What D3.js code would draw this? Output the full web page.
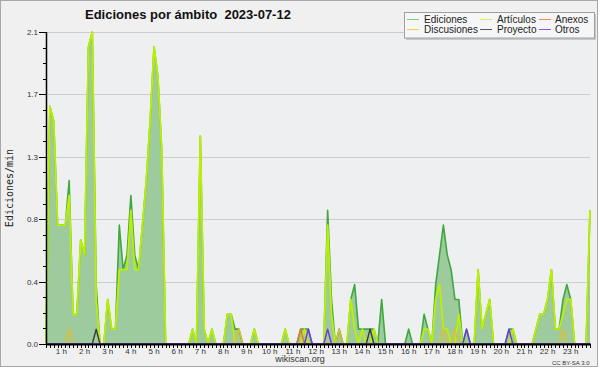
<!DOCTYPE html>
<html><head><meta charset="utf-8">
<script src="https://cdn.jsdelivr.net/npm/d3@7"></script>
<style>html,body{margin:0;padding:0;background:#fff;}svg{display:block;}</style>
</head><body><svg id="c" width="600" height="370"></svg>
<script>
const chartTitle = "Ediciones por ámbito  2023-07-12";
const yTitle = "Ediciones/min";
const hourLabels = ["1 h","2 h","3 h","4 h","5 h","6 h","7 h","8 h","9 h","10 h","11 h","12 h",
  "13 h","14 h","15 h","16 h","17 h","18 h","19 h","20 h","21 h","22 h","23 h"];
const yTicks = [0, 0.42, 0.84, 1.26, 1.68, 2.1];
const legendNames = ["Ediciones","Artículos","Anexos","Discusiones","Proyecto","Otros"];

const ediciones = [0,1.6,1.5,0.8,0.8,0.8,1.1,0.2,0.2,0.7,
 0.6,2.0,2.1,0.4,0,0,0.3,0.1,0.1,0.8,
 0.5,0.6,1.0,0.6,0.5,0.8,1.1,1.5,2.0,1.8,
 1.3,0,0,0,0,0,0,0,0.1,0,
 1.4,0.1,0,0.1,0,0,0,0.2,0.2,0.1,
 0.1,0,0,0,0.1,0,0,0,0,0,
 0,0,0.1,0,0,0,0.1,0.1,0.1,0,
 0,0,0,0.9,0.3,0,0.1,0,0,0.3,
 0.4,0.1,0.1,0.1,0.1,0.1,0,0.3,0,0,
 0,0,0,0,0.1,0,0,0,0.2,0.1,
 0,0.4,0.6,0.8,0.6,0.5,0.3,0.3,0,0.1,
 0,0,0.5,0.1,0.2,0.3,0,0,0,0,
 0.1,0.1,0,0,0,0,0,0.1,0.2,0.2,
 0.3,0.5,0.1,0.1,0.3,0.4,0.3,0,0,0,
 0,0.9];
const articulos = [0,1.6,1.5,0.8,0.8,0.8,1.0,0.2,0.2,0.7,
 0.6,2.0,2.1,0.3,0,0,0.3,0.1,0.1,0.5,
 0.5,0.5,0.9,0.5,0.5,0.8,1.1,1.5,2.0,1.8,
 1.3,0,0,0,0,0,0,0,0.1,0,
 1.4,0.1,0,0.1,0,0,0,0.2,0.2,0,
 0,0,0,0,0.1,0,0,0,0,0,
 0,0,0.1,0,0,0,0,0.1,0,0,
 0,0,0,0.8,0.2,0,0,0,0,0.3,
 0.1,0,0.1,0,0,0.1,0,0,0,0,
 0,0,0,0,0,0,0,0,0.1,0.1,
 0,0.3,0.4,0.1,0.1,0,0,0.2,0,0,
 0,0,0.5,0.1,0.2,0.3,0,0,0,0,
 0,0.1,0,0,0,0,0,0.1,0.2,0.2,
 0.3,0.5,0.1,0.1,0.2,0.3,0.3,0,0,0,
 0,0.9];
const anexos = [0,0,0,0,0,0,0,0,0,0, 0,0,0,0,0,0,0,0,0,0, 0,0,0,0,0,0,0,0,0,0,
 0,0,0,0,0,0,0,0,0,0, 0,0,0,0,0,0,0,0,0,0, 0,0,0,0,0,0,0,0,0,0,
 0,0,0,0,0,0,0.1,0,0,0, 0,0,0,0,0,0,0,0,0,0, 0,0,0,0,0,0,0,0,0,0,
 0,0,0,0,0,0,0,0,0,0, 0,0,0,0,0,0,0,0,0,0, 0,0,0,0,0,0,0,0,0,0,
 0,0,0,0,0,0,0,0,0,0, 0,0,0,0,0,0,0,0,0,0, 0,0];
const discusiones = [0,0,0,0,0,0,0.1,0,0,0, 0,0,0,0,0,0,0,0,0,0, 0,0,0,0,0,0,0,0,0,0,
 0,0,0,0,0,0,0,0,0,0, 0,0,0,0,0,0,0,0,0,0, 0.1,0,0,0,0,0,0,0,0,0,
 0,0,0,0,0,0,0,0,0,0, 0,0,0,0,0,0,0.1,0,0,0, 0,0,0,0,0,0,0,0,0,0,
 0,0,0,0,0,0,0,0,0,0, 0,0,0,0.1,0,0,0.1,0,0,0, 0,0,0,0,0,0,0,0,0,0,
 0,0,0,0,0,0,0,0,0,0, 0,0,0,0,0.1,0,0,0,0,0, 0,0];
const proyecto = [0,0,0,0,0,0,0,0,0,0, 0,0,0,0.1,0,0,0,0,0,0, 0,0,0,0,0,0,0,0,0,0,
 0,0,0,0,0,0,0,0,0,0, 0,0,0,0,0,0,0,0,0,0, 0,0,0,0,0,0,0,0,0,0,
 0,0,0,0,0,0,0,0,0,0, 0,0,0,0,0,0,0,0,0,0, 0,0,0,0,0.1,0,0,0,0,0,
 0,0,0,0,0,0,0,0,0,0, 0,0,0,0,0,0,0,0,0,0, 0,0,0,0,0,0,0,0,0,0,
 0,0,0,0,0,0,0,0,0,0, 0,0,0,0,0,0,0,0,0,0, 0,0];
const otros = [0,0,0,0,0,0,0,0,0,0, 0,0,0,0,0,0,0,0,0,0, 0,0,0,0,0,0,0,0,0,0,
 0,0,0,0,0,0,0,0,0,0, 0,0,0,0,0,0,0,0,0,0, 0,0,0,0,0,0,0,0,0,0,
 0,0,0,0,0,0,0,0,0.1,0, 0,0,0,0.1,0,0,0,0,0,0, 0,0,0,0,0,0,0,0,0,0,
 0,0,0,0,0,0,0,0,0,0, 0,0,0,0,0,0,0,0,0,0.1, 0,0,0,0,0,0,0,0,0,0,
 0.1,0,0,0,0,0,0,0,0,0, 0,0,0,0,0,0,0,0,0,0, 0,0];

const colors = {Ediciones:"#3fa83f", Artículos:"#bdf000", Anexos:"#e8752a",
  Discusiones:"#e6c020", Proyecto:"#3a3a3a", Otros:"#7236e0"};
const legendColors = {Ediciones:"#80cc80", Artículos:"#d4f060", Anexos:"#f08a55",
  Discusiones:"#f0d048", Proyecto:"#555555", Otros:"#9055f0"};

const svg = d3.select("#c");
const L = 46, R = 590, T = 32, B = 344;
const x = d3.scaleLinear().domain([0, ediciones.length - 1]).range([L, R]);
const y = d3.scaleLinear().domain([0, 2.1]).range([B, T]);

// background & frame
svg.append("rect").attr("x",0).attr("y",0).attr("width",600).attr("height",370).attr("fill","#ffffff");
svg.append("rect").attr("x",0.5).attr("y",0.5).attr("width",597).attr("height",366)
  .attr("fill","#f0f0f0").attr("stroke","#a8a8a8");
svg.append("rect").attr("x",L).attr("y",T).attr("width",R-L).attr("height",B-T).attr("fill","#eeeff1");

// grid
svg.append("g").selectAll("line").data(yTicks.filter(d=>d>0)).join("line")
  .attr("x1",L).attr("x2",R).attr("y1",d=>Math.round(y(d))+0.5).attr("y2",d=>Math.round(y(d))+0.5)
  .attr("stroke","#cdcdcd").attr("stroke-width",1);

// area + lines
const idx = d3.range(ediciones.length);
const area = d3.area().x(i=>x(i)).y0(B).y1(i=>y(ediciones[i]));
svg.append("path").datum(idx).attr("d",area).attr("fill","#9ecb9e");
const mkLine = arr => d3.line().x(i=>x(i)).y(i=>y(arr[i]));
svg.append("path").datum(idx).attr("d",mkLine(ediciones)).attr("fill","none")
  .attr("stroke",colors.Ediciones).attr("stroke-width",1.6).attr("stroke-linejoin","round");
svg.append("path").datum(idx).attr("d",mkLine(articulos)).attr("fill","none")
  .attr("stroke",colors["Artículos"]).attr("stroke-width",1.8).attr("stroke-linejoin","round");
[[anexos,colors.Anexos],[discusiones,colors.Discusiones],[proyecto,colors.Proyecto],[otros,colors.Otros]]
 .forEach(([arr,c])=>{
  svg.append("path").datum(idx).attr("d",mkLine(arr)).attr("fill","none")
   .attr("stroke",c).attr("stroke-width",1.4).attr("stroke-linejoin","round");
 });

// y axis
const minorY = d3.range(0, 2.1 + 1e-9, 0.105);
svg.append("g").selectAll("line").data(minorY).join("line")
  .attr("x1",43).attr("x2",L).attr("y1",d=>Math.round(y(d))+0.5).attr("y2",d=>Math.round(y(d))+0.5)
  .attr("stroke","#000");
svg.append("g").selectAll("line").data(yTicks).join("line")
  .attr("x1",39).attr("x2",L).attr("y1",d=>Math.round(y(d))+0.5).attr("y2",d=>Math.round(y(d))+0.5)
  .attr("stroke","#000");
svg.append("g").selectAll("text").data(yTicks).join("text")
  .attr("x",38).attr("y",d=>y(d)+3).attr("text-anchor","end")
  .attr("font-family","Liberation Sans").attr("font-size",8).attr("fill","#333")
  .text(d=>d3.format(".1f")(d));
svg.append("line").attr("x1",L+0.5).attr("x2",L+0.5).attr("y1",T).attr("y2",B+1)
  .attr("stroke","#000").attr("stroke-width",1.5);

// x axis
svg.append("g").selectAll("line").data(idx).join("line")
  .attr("x1",i=>Math.round(x(i))+0.5).attr("x2",i=>Math.round(x(i))+0.5).attr("y1",B).attr("y2",B+4)
  .attr("stroke","#000");
svg.append("line").attr("x1",L).attr("x2",R+1).attr("y1",B+0.5).attr("y2",B+0.5)
  .attr("stroke","#000").attr("stroke-width",2);
svg.append("g").selectAll("text").data(hourLabels).join("text")
  .attr("x",(d,k)=>x(6*(k+1)-2)).attr("y",353.5).attr("text-anchor","middle")
  .attr("font-family","Liberation Sans").attr("font-size",8).attr("fill","#333")
  .text(d=>d);

// titles
svg.append("text").attr("x",85).attr("y",18.5).attr("font-family","Liberation Sans")
  .attr("font-weight","bold").attr("font-size",13).attr("fill","#111")
  .style("white-space","pre").text(chartTitle);
svg.append("text").attr("transform","translate(13,188) rotate(-90)").attr("text-anchor","middle")
  .attr("font-family","DejaVu Sans Mono").attr("font-size",10).attr("fill","#222").text(yTitle);
svg.append("text").attr("x",300).attr("y",362).attr("text-anchor","middle")
  .attr("font-family","Liberation Sans").attr("font-size",9).attr("fill","#333").text("wikiscan.org");
svg.append("text").attr("x",589.5).attr("y",365).attr("text-anchor","end")
  .attr("font-family","Liberation Sans").attr("font-size",6).attr("fill","#333").text("CC BY-SA 3.0");

// legend
svg.append("rect").attr("x",406).attr("y",14).attr("width",190).attr("height",26).attr("fill","#c8c8c8");
svg.append("rect").attr("x",404.5).attr("y",12.5).attr("width",190).attr("height",25.5)
  .attr("fill","#f6f6f6").attr("stroke","#a0a0a0");
const colX = [407, 480, 539], txtX = [424, 497, 555], rowY = [19.5, 29.5];
const lg = svg.append("g").selectAll("g").data(legendNames).join("g")
  .attr("transform",(d,k)=>`translate(0,${rowY[Math.floor(k/3)]})`);
lg.append("line").attr("x1",(d,k)=>colX[k%3]).attr("x2",(d,k)=>colX[k%3]+12).attr("y1",0).attr("y2",0)
  .attr("stroke",d=>legendColors[d]).attr("stroke-width",1);
lg.append("text").attr("x",(d,k)=>txtX[k%3]).attr("y",3.5)
  .attr("font-family","Liberation Sans").attr("font-size",10).attr("fill","#222").text(d=>d);
</script></body></html>
